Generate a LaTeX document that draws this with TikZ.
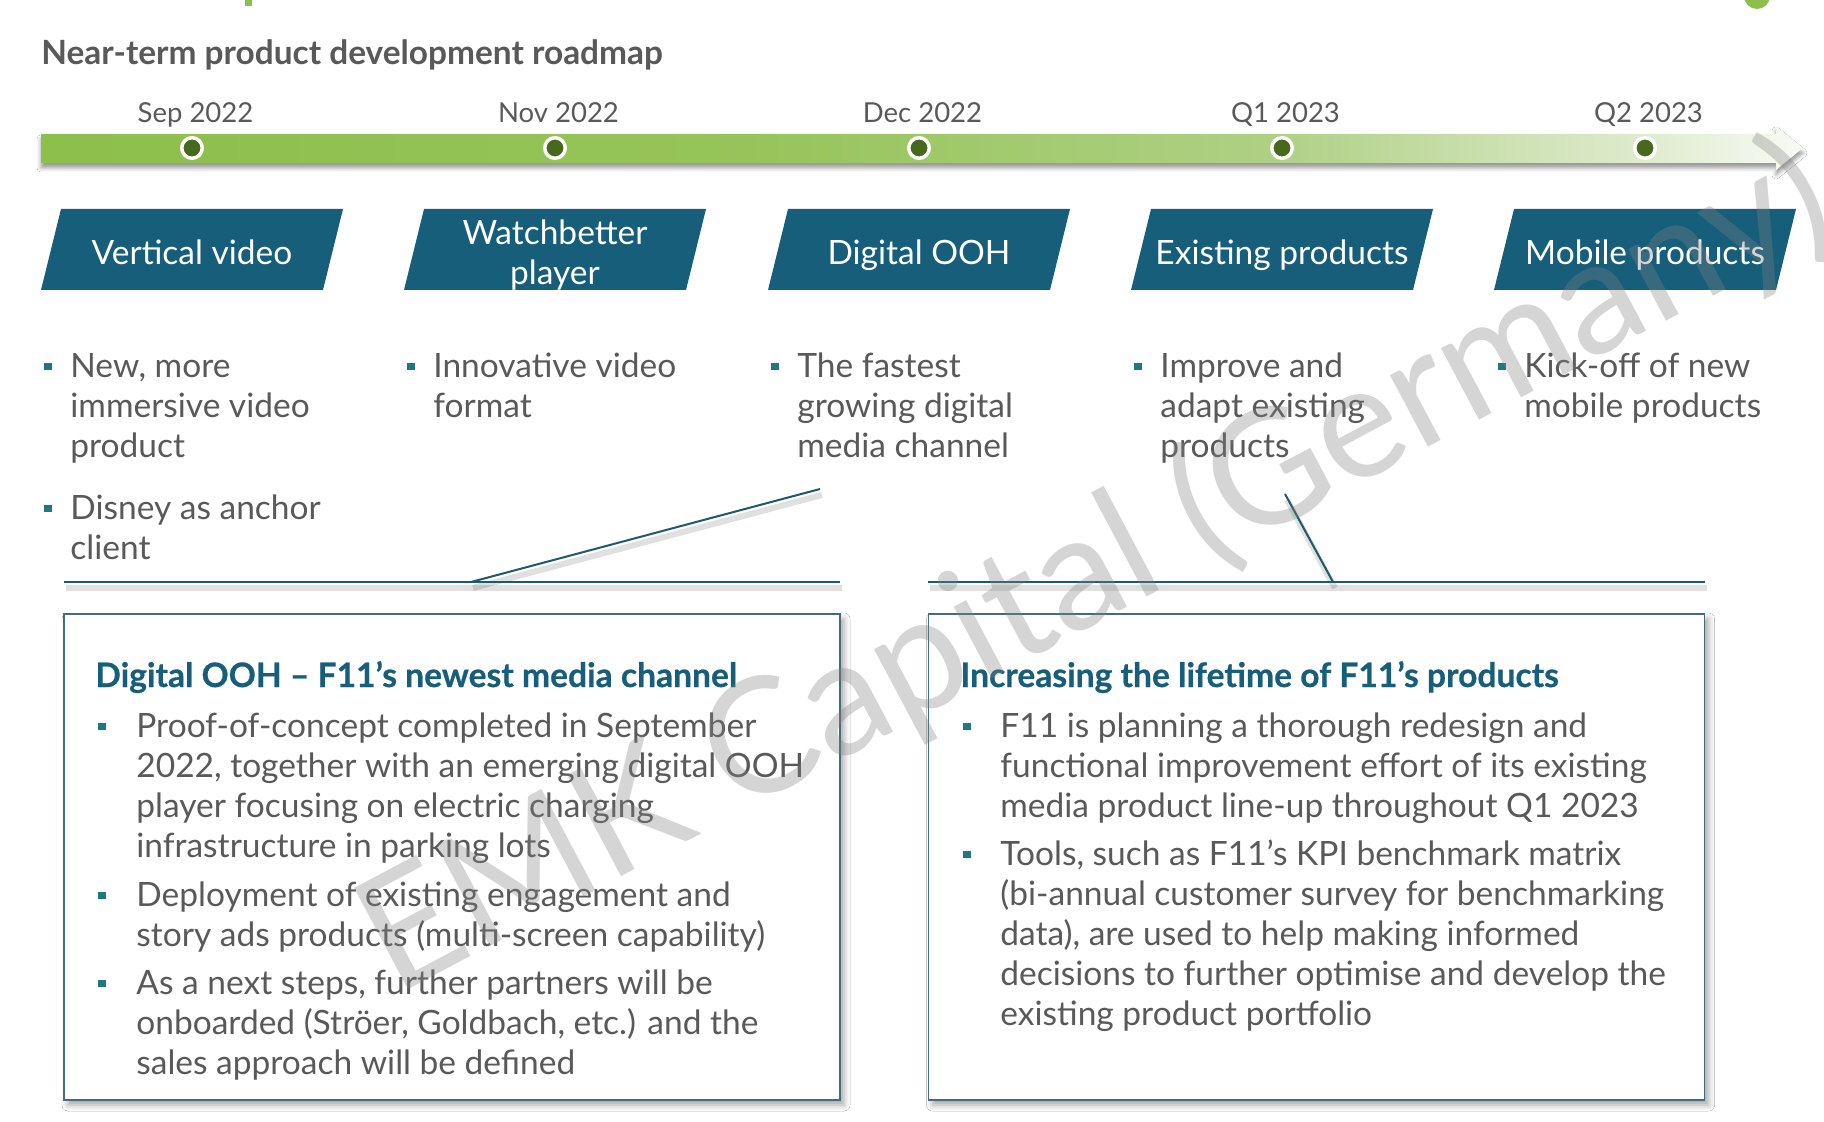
\documentclass[tikz,border=0pt]{standalone}
\usepackage{fontspec}
\setmainfont{Lato}
\newfontfamily\titlefont{Lato}[FakeBold=0.6]
\usetikzlibrary{shadows.blur}

\definecolor{tlgreen}{RGB}{141,191,75}
\definecolor{tlgreenb}{RGB}{150,196,90}
\definecolor{tlmid}{RGB}{175,208,132}
\definecolor{tllight}{RGB}{220,234,202}
\definecolor{tlend}{RGB}{248,250,245}
\definecolor{dotgreen}{RGB}{72,104,30}
\definecolor{hdrblue}{RGB}{22,94,122}
\definecolor{bodygray}{RGB}{89,89,89}
\definecolor{bulteal}{RGB}{30,120,125}
\definecolor{lineteal}{RGB}{30,90,110}
\definecolor{boxedge}{RGB}{65,110,125}
\definecolor{wmgray}{RGB}{130,130,130}
\definecolor{logogreen}{RGB}{141,191,75}

% timeline fill: solid green on the left, fading out towards the arrow head
\pgfdeclarehorizontalshading{barshade}{100bp}{color(0bp)=(tlgreen); color(25bp)=(tlgreen); color(45bp)=(tlgreenb); color(60bp)=(tlmid); color(70bp)=(tllight); color(75bp)=(tlend); color(100bp)=(tlend)}

\newcommand{\txtlines}[1]{\parbox[t]{420pt}{\raggedright #1}}

\begin{document}
\begin{tikzpicture}[x=0.5pt, y=-0.5pt,
  body/.style={font=\fontsize{16.75}{20}\selectfont, text=bodygray, inner sep=0pt, anchor=base west},
  datelbl/.style={font=\fontsize{13.75}{16}\selectfont, text=bodygray, inner sep=0pt, anchor=base},
  hdrtext/.style={font=\fontsize{16.75}{20}\selectfont, text=white, inner sep=0pt, anchor=base},
  hdrfill/.style={fill=hdrblue},
  bsq/.style={fill=bulteal, minimum size=3.6pt, inner sep=0pt},
  tdot/.style={circle, fill=dotgreen, draw=white, line width=1.75pt, minimum size=10.25pt, inner sep=0pt},
  boxtitle/.style={font=\fontsize{16.8}{20}\selectfont\titlefont\bfseries, text=hdrblue, inner sep=0pt, anchor=base west},
  infobox/.style={draw=boxedge, line width=0.6pt, fill=white, minimum width=388pt, minimum height=243pt, inner sep=0pt,
    blur shadow={shadow xshift=2pt, shadow yshift=-2.5pt, shadow blur radius=3pt, shadow opacity=35}},
  callout/.style={draw=lineteal, line width=1pt},
  calloutshade/.style={draw=black, opacity=0.12, line width=3pt, transform canvas={xshift=1pt, yshift=-3pt}},
  watermark/.style={font=\fontsize{80}{80}\selectfont, text=wmgray, text opacity=0.33, inner sep=0pt}]

\useasboundingbox (0,0) rectangle (1824,1122);
\fill[white] (0,0) rectangle (1824,1122);

% fragments of the slide heading above
\fill[logogreen] (245,0) rectangle (252,6);
\fill[logogreen] (1757,-4) circle (13);

% section heading
\node[font=\fontsize{16.7}{20}\selectfont\bfseries, text=bodygray, inner sep=0pt, anchor=base west] (sub) at (41,64.5) {Near-term product development roadmap};

% timeline arrow
\path[shading=barshade, blur shadow={shadow xshift=0pt, shadow yshift=-2.5pt, shadow blur radius=2pt, shadow opacity=40}]
  (41,134) -- (1776,134) -- (1776,126) -- (1803,148) -- (1776,170) -- (1776,163) -- (41,163) -- cycle;

% milestones
\foreach \cx/\lbl [count=\i] in {192/Sep 2022, 555/Nov 2022, 919/Dec 2022, 1282/Q1 2023, 1645/Q2 2023} {
  \node[datelbl] (date\i) at ({\cx+3.5},122.5) {\lbl};
  \node[tdot] (dot\i) at (\cx,148) {};
  \fill[hdrfill] ({\cx-151},290) -- ({\cx+131},290) -- ({\cx+151},209) -- ({\cx-131},209) -- cycle;
}

% header labels
\node[hdrtext] (h1) at (192,264.5) {Vertical video};
\node[hdrtext] (h2) at (555,244.5) {\parbox[t]{200pt}{\centering Watchbetter\\player}};
\node[hdrtext] (h3) at (919,264.5) {Digital OOH};
\node[hdrtext] (h4) at (1282,264.5) {Existing products};
\node[hdrtext] (h5) at (1645,264.5) {Mobile products};

% short descriptions under each milestone
\node[bsq] (q1a) at (48,366.5) {};
\node[body] (c1a) at (70,377.5) {\txtlines{New, more\\immersive video\\product}};
\node[bsq] (q1b) at (48,508.5) {};
\node[body] (c1b) at (70,519.5) {\txtlines{Disney as anchor\\client}};
\node[bsq] (q2) at (411,366.5) {};
\node[body] (c2) at (433,377.5) {\txtlines{Innovative video\\format}};
\node[bsq] (q3) at (775,366.5) {};
\node[body] (c3) at (797,377.5) {\txtlines{The fastest\\growing digital\\media channel}};
\node[bsq] (q4) at (1138,366.5) {};
\node[body] (c4) at (1160,377.5) {\txtlines{Improve and\\adapt existing\\products}};
\node[bsq] (q5) at (1502,366.5) {};
\node[body] (c5) at (1524,377.5) {\txtlines{Kick-off of new\\mobile products}};

% callout leaders
\coordinate (la) at (64,582);
\coordinate (lb) at (840,582);
\coordinate (lc) at (471,582);
\coordinate (ld) at (820,489);
\coordinate (ra) at (928,582);
\coordinate (rb) at (1705,582);
\coordinate (rc) at (1333,582);
\coordinate (rd) at (1285,494);
\draw[calloutshade] (la) -- (lb);
\draw[calloutshade] (lc) -- (ld);
\draw[calloutshade] (ra) -- (rb);
\draw[calloutshade] (rc) -- (rd);
\draw[callout] (la) -- (lb);
\draw[callout] (lc) -- (ld);
\draw[callout] (ra) -- (rb);
\draw[callout] (rc) -- (rd);

% detail boxes
\node[infobox] (lbox) at (452,857) {};
\node[infobox] (rbox) at (1316.5,857) {};

\node[boxtitle] (ltitle) at (95,687) {Digital OOH – F11’s newest media channel};
\node[bsq] (lq1) at (102,726.5) {};
\node[body] (lt1) at (136,737.5) {\txtlines{Proof-of-concept completed in September\\2022, together with an emerging digital OOH\\player focusing on electric charging\\infrastructure in parking lots}};
\node[bsq] (lq2) at (102,895.5) {};
\node[body] (lt2) at (136,906.5) {\txtlines{Deployment of existing engagement and\\story ads products (multi-screen capability)}};
\node[bsq] (lq3) at (102,983.5) {};
\node[body] (lt3) at (136,994.5) {\txtlines{As a next steps, further partners will be\\onboarded (Ströer, Goldbach, etc.) and the\\sales approach will be defined}};

\node[boxtitle] (rtitle) at (960,687) {Increasing the lifetime of F11’s products};
\node[bsq] (rq1) at (967,726.5) {};
\node[body] (rt1) at (1000,737.5) {\txtlines{F11 is planning a thorough redesign and\\functional improvement effort of its existing\\media product line-up throughout Q1 2023}};
\node[bsq] (rq2) at (967,854.5) {};
\node[body] (rt2) at (1000,865.5) {\txtlines{Tools, such as F11’s KPI benchmark matrix\\(bi-annual customer survey for benchmarking\\data), are used to help making informed\\decisions to further optimise and develop the\\existing product portfolio}};

% watermark
\node[watermark, rotate=28] (wm) at (1095,570) {EMK Capital (Germany)};

\end{tikzpicture}
\end{document}
